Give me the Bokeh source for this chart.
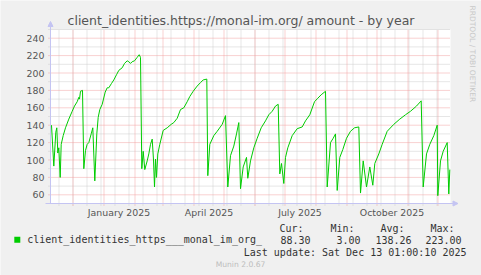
import math
from datetime import datetime, timedelta
from bokeh.plotting import figure
from bokeh.models import (Range1d, FixedTicker, Label, Arrow, NormalHead,
                          DatetimeTickFormatter, ColumnDataSource)
from bokeh.embed import file_html
from bokeh.resources import INLINE

# ---------------- data ----------------
title = "client_identities.https://monal-im.org/ amount - by year"
series_name = "client_identities_https___monal_im_org_"
window_start = datetime(2024, 11, 8)          # 400-day window start
window_days = 400
# days since window_start, and the plotted value
days = [1.5, 3.8, 5.8, 6.8, 7.8, 8.8, 10.2, 11.2, 13.2, 15.5,
        18.8, 22.2, 24.5, 27.2, 28.8, 29.5, 30.5, 32.5, 33.8, 35.5,
        37.2, 38.8, 41.2, 42.8, 44.8, 46.8, 48.2, 49.8, 52.2, 55.2,
        57.2, 58.8, 61.5, 63.8, 66.5, 68.8, 72.2, 74.5, 77.2, 78.8,
        80.5, 82.2, 84.5, 87.2, 89.2, 90.5, 91.8, 93.2, 94.8, 97.2,
        98.8, 100.5, 102.2, 103.5, 104.5, 105.5, 106.5, 107.8, 109.8, 113.2,
        117.2, 121.2, 123.8, 127.2, 130.5, 133.8, 137.2, 139.8, 143.2, 147.2,
        150.5, 153.2, 156.8, 157.8, 159.8, 163.8, 167.2, 172.2, 175.5, 177.8,
        180.5, 183.8, 186.5, 188.8, 190.5, 193.2, 196.5, 197.8, 200.5, 203.8,
        207.2, 211.2, 215.5, 218.8, 222.2, 225.5, 228.2, 229.8, 231.5, 233.8,
        235.5, 237.8, 242.2, 247.2, 252.2, 255.5, 259.8, 264.5, 267.8, 271.2,
        275.5, 277.2, 280.5, 283.2, 285.5, 287.2, 289.8, 292.8, 296.5, 300.5,
        304.5, 308.8, 310.5, 313.2, 316.5, 319.8, 322.8, 324.8, 328.8, 332.2,
        337.2, 343.8, 349.8, 355.5, 360.5, 366.5, 371.2, 373.2, 376.5, 379.8,
        383.8, 387.2, 387.8, 390.5, 393.2, 397.2, 398.8, 399.8]
values = [140, 93, 132, 137, 108, 114, 80, 118, 128, 137,
          147, 156, 162, 167, 172, 170, 179, 180, 90, 111,
          118, 120, 130, 137, 76, 130, 149, 158, 164, 178,
          183, 183, 188, 192, 198, 203, 206, 211, 214, 213,
          211, 213, 214, 218, 221, 218, 90, 110, 89, 99,
          107, 118, 124, 100, 69, 101, 80, 107, 118, 134,
          137, 141, 143, 148, 158, 160, 167, 173, 179, 185,
          189, 192, 193, 82, 118, 128, 133, 141, 151, 69,
          105, 116, 130, 143, 67, 92, 103, 79, 99, 114,
          125, 137, 145, 152, 156, 162, 164, 84, 96, 73,
          103, 114, 128, 136, 138, 145, 152, 167, 171, 175,
          179, 69, 120, 125, 130, 65, 103, 112, 125, 133,
          137, 138, 62, 99, 69, 92, 71, 96, 107, 118,
          133, 141, 147, 152, 156, 162, 168, 69, 107, 118,
          128, 140, 59, 99, 110, 120, 61, 89]
y_min, y_max = 50, 250
y_major_ticks = [60, 80, 100, 120, 140, 160, 180, 200, 220, 240]
y_minor_ticks = [70, 90, 110, 130, 150, 170, 190, 210, 230, 250]
x_label_dates = [datetime(2025, 1, 16), datetime(2025, 4, 16),
                 datetime(2025, 7, 16), datetime(2025, 10, 16)]
month_starts = [datetime(2024, 12, 1)] + [datetime(2025, m, 1) for m in range(1, 13)]
stat_headers = ["Cur:", "Min:", "Avg:", "Max:"]
stat_values = ["88.30", "3.00", "138.26", "223.00"]
last_update = "Last update: Sat Dec 13 01:00:10 2025"
footer = "Munin 2.0.67"
side_text = "RRDTOOL / TOBI OETIKER"

# ---------------- geometry ----------------
EPOCH = datetime(1970, 1, 1)
def ms(dt):
    return (dt - EPOCH).total_seconds() * 1000.0

W, H = 481, 275
PLOT_L, PLOT_B = 50, 203           # canvas px of the data window's left/bottom
PX_PER_DAY = 1.0
PX_PER_UNIT = 0.87
x0 = window_start + timedelta(hours=12)             # value at PLOT_L
x_end_data = x0 + timedelta(days=window_days)
def dpx(n):                                          # n canvas px as a timedelta
    return timedelta(days=n / PX_PER_DAY)
def upx(n):                                          # n canvas px in value units
    return n / PX_PER_UNIT
x_range = Range1d(x0 - dpx(PLOT_L), x0 + dpx(W - PLOT_L))
y_range = Range1d(y_min - upx(H - PLOT_B), y_min + upx(PLOT_B))

xs = [window_start + timedelta(days=d) for d in days]
minor_x = []
t = datetime(2024, 11, 17)
while t < x_end_data:
    minor_x.append(t)
    t += timedelta(days=14)

BG = "#F0F0F0"
TXT = "#555555"
GRAY = "#CDCDCD"
RED = "#F2A3A3"
AX = "#C4C4F2"

p = figure(width=W, height=H, x_axis_type="datetime", output_backend="svg",
           toolbar_location=None, min_border_left=0, min_border_right=0,
           min_border_top=0, min_border_bottom=0, x_range=x_range, y_range=y_range)
p.title.visible = False
p.background_fill_color = BG
p.border_fill_color = BG
p.outline_line_color = None
p.xgrid.visible = False
p.ygrid.visible = False

# white canvas of the data window
p.quad(left=[x0], right=[x_end_data], bottom=[y_min], top=[y_max],
       fill_color="white", line_color=None)

# grid (dotted), with the short rrdtool ticks outside the window
def hgrid(levels, color):
    n = len(levels)
    p.segment(x0=[x0 - dpx(2)] * n, y0=levels, x1=[x_end_data] * n, y1=levels,
              line_color=color, line_dash="1 1", line_width=1)
def vgrid(dates, color):
    n = len(dates)
    p.segment(x0=dates, y0=[y_min - upx(2)] * n, x1=dates, y1=[y_max] * n,
              line_color=color, line_dash="1 1", line_width=1)
vgrid(minor_x, GRAY)
hgrid(y_minor_ticks, GRAY)
vgrid(month_starts, RED)
hgrid(y_major_ticks, RED)

src = ColumnDataSource(dict(x=xs, y=values))
p.line("x", "y", source=src, line_color="#00CC00", line_width=1)

# axes, pinned to the data window edges
p.yaxis.fixed_location = ms(x0)
p.yaxis.bounds = (y_min, y_min + upx(PLOT_B - 24))
p.yaxis.ticker = FixedTicker(ticks=y_major_ticks)
p.yaxis.axis_line_color = AX
p.yaxis.major_tick_out = 0
p.yaxis.major_tick_in = 0
p.yaxis.minor_tick_out = 0
p.yaxis.minor_tick_in = 0
p.yaxis.major_tick_line_color = None
p.yaxis.minor_tick_line_color = None
p.yaxis.major_label_standoff = 6
p.yaxis.major_label_text_font = "DejaVu Sans"
p.yaxis.major_label_text_font_size = "9.4px"
p.yaxis.major_label_text_color = TXT

p.xaxis.fixed_location = y_min
p.xaxis.bounds = (x0 - dpx(5), x0 + dpx(403))
p.xaxis.ticker = FixedTicker(ticks=[ms(d) for d in x_label_dates])
fmt = "%B %Y"
p.xaxis.formatter = DatetimeTickFormatter(milliseconds=fmt, seconds=fmt, minsec=fmt,
                                          minutes=fmt, hourmin=fmt, hours=fmt,
                                          days=fmt, months=fmt, years=fmt)
p.xaxis.axis_line_color = AX
p.xaxis.major_tick_out = 0
p.xaxis.major_tick_in = 0
p.xaxis.minor_tick_out = 0
p.xaxis.minor_tick_in = 0
p.xaxis.major_tick_line_color = None
p.xaxis.minor_tick_line_color = None
p.xaxis.major_label_standoff = 3
p.xaxis.major_label_text_font = "DejaVu Sans"
p.xaxis.major_label_text_font_size = "9.4px"
p.xaxis.major_label_text_color = TXT

# arrow heads at the axis ends
p.add_layout(Arrow(x_start=x0, y_start=y_min + upx(PLOT_B - 26), x_end=x0,
                   y_end=y_min + upx(PLOT_B - 21),
                   line_color=AX, line_width=1,
                   end=NormalHead(size=5, fill_color=AX, line_color=AX)))
p.add_layout(Arrow(x_start=x0 + dpx(402), y_start=y_min, x_end=x0 + dpx(407.5),
                   y_end=y_min, line_color=AX, line_width=1,
                   end=NormalHead(size=5, fill_color=AX, line_color=AX)))

# ---------------- texts (canvas px; y measured from the canvas bottom) ----------------
def label(cx, cy, text, size, color, font="DejaVu Sans", align="left", angle=0.0):
    p.add_layout(Label(x=cx, y=H - cy, x_units="screen", y_units="screen",
                       text=text, text_font=font, text_font_size=size,
                       text_color=color, text_align=align, text_baseline="middle",
                       angle=angle))

label(240.5, 20, title, "12.5px", TXT, align="center")
label(471.5, 5, side_text, "7.5px", "#C8C8C8", angle=-math.pi / 2)

MONO = "DejaVu Sans Mono"
LEG = "#333333"
p.scatter(x=[x0 - dpx(PLOT_L - 16.8)], y=[y_min - upx(239.3 - PLOT_B)], marker="square",
          size=6, fill_color="#00CC00", line_color=None)
label(26.7, 239.3, series_name, "10px", LEG, font=MONO)
for txt, right in zip(stat_headers, [303, 354, 404, 454]):
    label(right, 228.3, txt, "10px", LEG, font=MONO, align="right")
for txt, right in zip(stat_values, [310, 360, 411, 461]):
    label(right, 239.3, txt, "10px", LEG, font=MONO, align="right")
label(466, 251.7, last_update, "10px", LEG, font=MONO, align="right")
label(240, 264.3, footer, "7.6px", "#BDBDBD", align="center")

open("out.html", "w").write(file_html(p, INLINE))
